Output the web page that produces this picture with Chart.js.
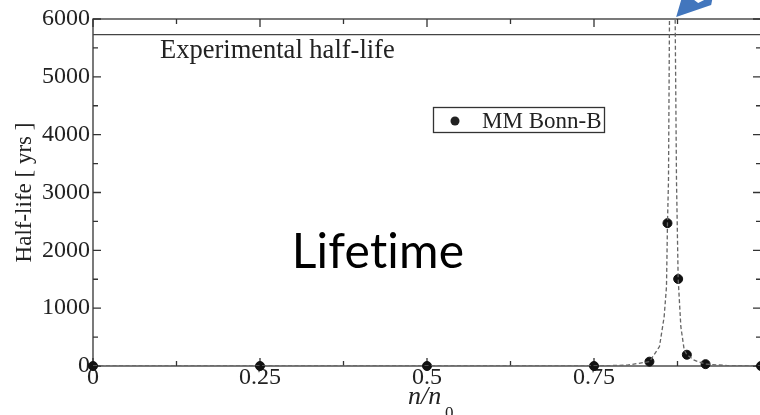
<!DOCTYPE html>
<html>
<head>
<meta charset="utf-8">
<script src="https://cdn.jsdelivr.net/npm/chart.js@4.4.1/dist/chart.umd.min.js"></script>
<style>
  html, body { margin: 0; padding: 0; background: #fff; overflow: hidden; }
  canvas { display: block; }
</style>
</head>
<body>
<canvas id="halfLife" width="762" height="415"></canvas>
<script>
// MM Bonn-B points (n/n0, half-life in yrs)
const densityRatio = [0, 0.25, 0.5, 0.75, 0.833, 0.86, 0.876, 0.889, 0.917, 1.0];
const halfLifeYrs = [0, 0, 0, 0, 75, 2470, 1505, 195, 32, 0];

// dashed fit curve (left and right of the pole)
const fitLeftX = [0, 0.5, 0.75, 0.8, 0.833, 0.848, 0.855, 0.8585, 0.86, 0.8615, 0.863, 0.8635];
const fitLeftY = [0, 0, 0, 15, 75, 335, 850, 1370, 2470, 3200, 6000, 7000];
const fitRightX = [0.871, 0.8715, 0.8735, 0.876, 0.88, 0.885, 0.889, 0.9, 0.917, 0.95, 1.0];
const fitRightY = [7000, 6000, 3200, 1505, 680, 280, 195, 100, 32, 8, 0];

const experimentalHalfLife = 5730;

const xTicks = [0, 0.25, 0.5, 0.75, 1];
const xMinorTicks = [0.125, 0.375, 0.625, 0.875];
const yTicks = [0, 1000, 2000, 3000, 4000, 5000, 6000];
const yMinorTicks = [500, 1500, 2500, 3500, 4500, 5500];

const serif = '"Liberation Serif", "Times New Roman", serif';
const toPoints = (xs, ys) => xs.map((v, i) => ({x: v, y: ys[i]}));

const decorations = {
    id: 'decorations',
    beforeDatasetsDraw(chart) {
        const {ctx, chartArea: a, scales: {x, y}} = chart;
        ctx.save();
        ctx.strokeStyle = '#333';
        ctx.lineWidth = 1.3;
        ctx.strokeRect(a.left, a.top, a.right - a.left, a.bottom - a.top);
        ctx.beginPath();
        const xt = (v, len) => {
            const px = x.getPixelForValue(v);
            ctx.moveTo(px, a.bottom); ctx.lineTo(px, a.bottom - len);
            ctx.moveTo(px, a.top); ctx.lineTo(px, a.top + len);
        };
        const yt = (v, len) => {
            const py = y.getPixelForValue(v);
            ctx.moveTo(a.left, py); ctx.lineTo(a.left + len, py);
            ctx.moveTo(a.right, py); ctx.lineTo(a.right - len, py);
        };
        xTicks.forEach(v => xt(v, 8));
        xMinorTicks.forEach(v => xt(v, 5));
        yTicks.forEach(v => yt(v, 8));
        yMinorTicks.forEach(v => yt(v, 5));
        ctx.stroke();
        ctx.restore();
    },
    afterDatasetsDraw(chart) {
        const {ctx, chartArea: a, scales: {x, y}} = chart;
        ctx.save();
        ctx.fillStyle = '#222';
        ctx.textBaseline = 'alphabetic';

        // label of the experimental line
        ctx.font = '26.5px ' + serif;
        ctx.textAlign = 'left';
        ctx.fillText('Experimental half-life', a.left + 67, a.top + 39);

        // legend
        ctx.strokeStyle = '#333';
        ctx.lineWidth = 1.3;
        ctx.strokeRect(433.5, 107.5, 171, 25);
        ctx.beginPath();
        ctx.arc(455, 121, 4.5, 0, Math.PI * 2);
        ctx.fill();
        ctx.font = '23px ' + serif;
        ctx.fillText('MM Bonn-B', 482, 128);

        // x title n/n0
        ctx.font = 'italic 26px ' + serif;
        ctx.textAlign = 'left';
        ctx.fillText('n/n', 408, 404);
        ctx.font = '17px ' + serif;
        ctx.fillText('0', 445, 418);

        // big overlay text
        ctx.fillStyle = '#000';
        ctx.letterSpacing = '0.2px';
        ctx.font = '48px Lato, "Open Sans", sans-serif';
        ctx.textAlign = 'center';
        ctx.fillText('Lifetime', 378, 268);
        ctx.letterSpacing = '0px';

        // blue arrow pointing at the pole
        const tx = x.getPixelForValue(0.873), ty = a.top - 2;
        ctx.fillStyle = '#4276bd';
        ctx.beginPath();
        ctx.moveTo(tx, ty);
        ctx.lineTo(tx + 5, 0);
        ctx.lineTo(tx + 18, 0);
        ctx.lineTo(tx + 22, 3);
        ctx.lineTo(tx + 28, 0);
        ctx.lineTo(tx + 36, 0);
        ctx.lineTo(tx + 35, 5);
        ctx.closePath();
        ctx.fill();
        ctx.restore();
    }
};

function drawHalfLife() {
    const ctx = document.getElementById('halfLife');

    const data = {
        datasets: [{
            label: 'fit left',
            data: toPoints(fitLeftX, fitLeftY),
            showLine: true,
            borderColor: '#666',
            borderWidth: 1.3,
            borderDash: [4, 2.5],
            pointRadius: 0,
            clip: 0,
        },
            {
                label: 'fit right',
                data: toPoints(fitRightX, fitRightY),
                showLine: true,
                borderColor: '#666',
                borderWidth: 1.3,
                borderDash: [4, 2.5],
                pointRadius: 0,
                clip: 0,
            },
            {
                label: 'Experimental half-life',
                data: [{x: 0, y: experimentalHalfLife}, {x: 1, y: experimentalHalfLife}],
                showLine: true,
                borderColor: '#444',
                borderWidth: 1.3,
                pointRadius: 0,
            },
            {
                label: 'MM Bonn-B',
                data: toPoints(densityRatio, halfLifeYrs),
                showLine: false,
                pointRadius: 4.5,
                pointBackgroundColor: '#111',
                pointBorderColor: '#111',
                clip: false,
            }]
    };

    const config = {
        type: 'scatter',
        data: data,
        options: {
            responsive: false,
            animation: false,
            layout: {autoPadding: false, padding: {top: 19, right: 1, left: 0, bottom: 0}},
            plugins: {legend: {display: false}, tooltip: {enabled: false}},
            scales: {
                x: {
                    type: 'linear',
                    min: 0,
                    max: 1,
                    afterBuildTicks: s => { s.ticks = xTicks.map(v => ({value: v})); },
                    afterFit: s => { s.height = 49; s.paddingRight = 0; },
                    grid: {display: false, drawTicks: false, tickLength: 0},
                    border: {display: false},
                    ticks: {
                        padding: -3,
                        color: '#222',
                        font: {family: serif, size: 24},
                        maxRotation: 0,
                        // the label at 1 falls off the right edge of the picture
                        callback: v => v === 1 ? '' : String(v),
                    },
                },
                y: {
                    min: 0,
                    max: 6000,
                    afterBuildTicks: s => { s.ticks = yTicks.map(v => ({value: v})); },
                    afterFit: s => { s.width = 93; },
                    grid: {display: false, drawTicks: false, tickLength: 0},
                    border: {display: false},
                    title: {
                        display: true,
                        text: 'Half-life [ yrs ]',
                        color: '#222',
                        font: {family: serif, size: 23},
                        padding: {top: 11, bottom: 0},
                    },
                    ticks: {
                        padding: 3,
                        color: '#222',
                        font: {family: serif, size: 24},
                        callback: v => String(v),
                    },
                }
            }
        },
        plugins: [decorations]
    };

    new Chart(ctx, config)
}
document.addEventListener("DOMContentLoaded", function () {
    drawHalfLife()
});
</script>
</body>
</html>
